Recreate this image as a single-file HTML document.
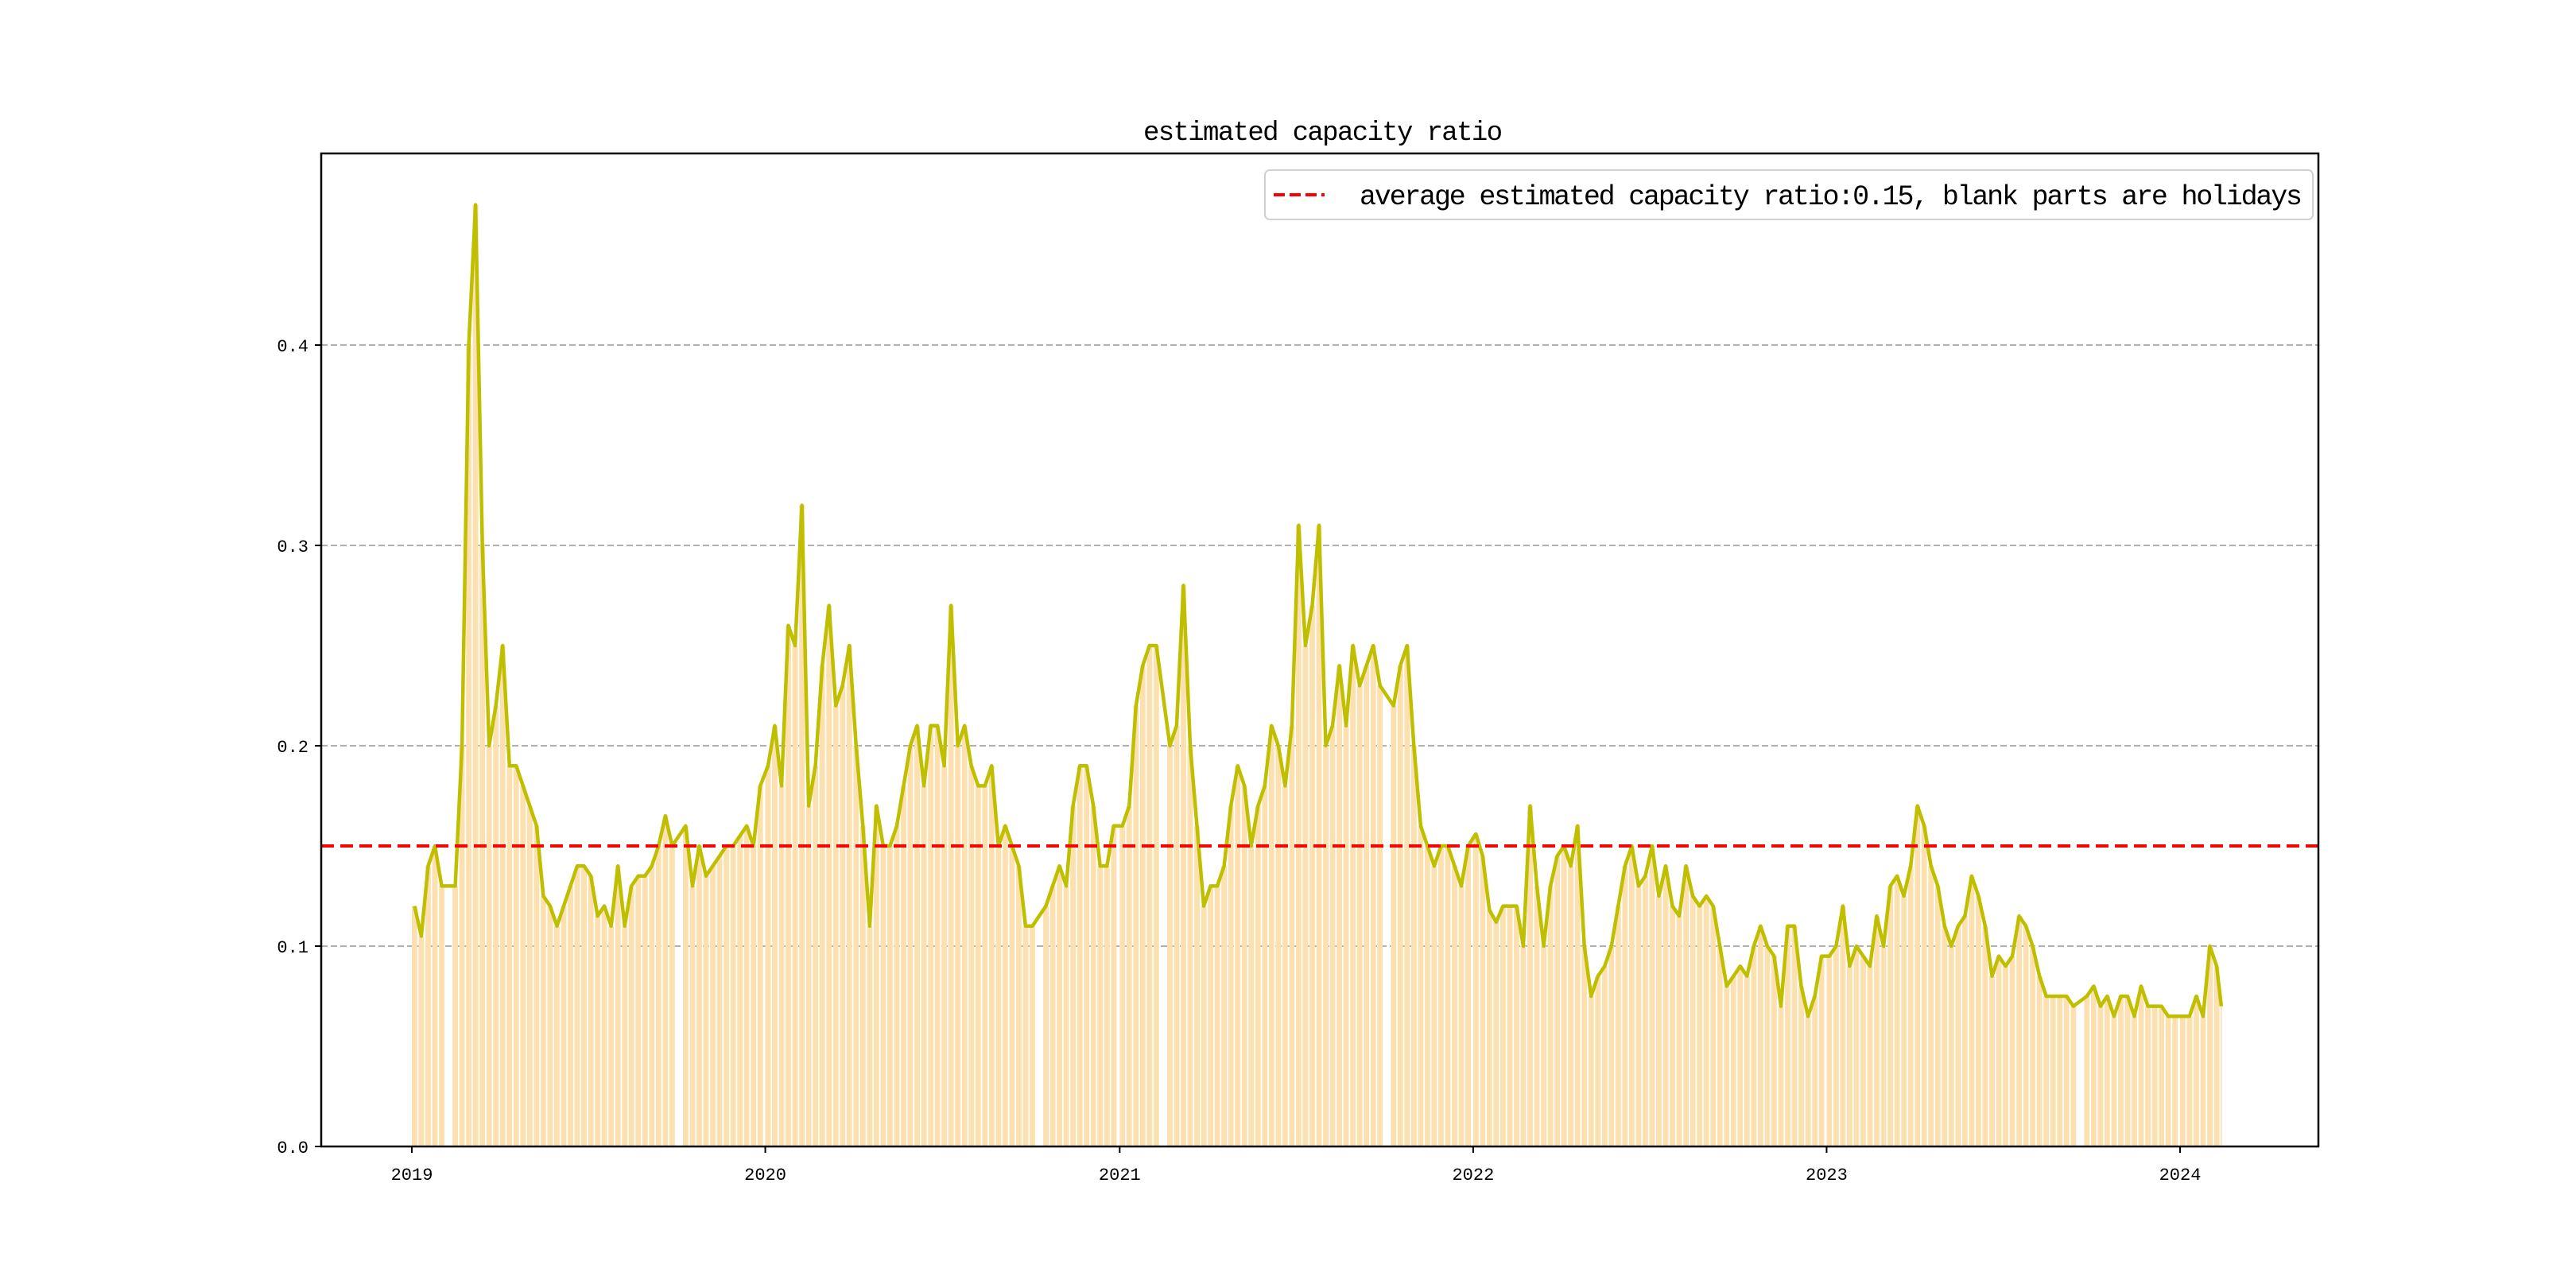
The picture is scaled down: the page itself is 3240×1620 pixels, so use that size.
<!DOCTYPE html>
<html><head><meta charset="utf-8"><title>estimated capacity ratio</title>
<style>html,body{margin:0;padding:0;background:#fff;}svg{display:block;}</style></head>
<body>
<svg id="chart" xmlns="http://www.w3.org/2000/svg" width="3240" height="1620" viewBox="0 0 3240 1620">
<rect x="0" y="0" width="3240" height="1620" fill="#fff"/>
<g id="grid"></g>
<g id="bars"></g>
<g id="lines"></g>
<rect x="404" y="193" width="2512" height="1249" fill="none" stroke="#000" stroke-width="2.5"/>
<g id="axes"></g>
<text x="1664" y="176" text-anchor="middle" font-family="'WenQuanYi Zen Hei','Liberation Mono',monospace" font-size="34" textLength="452" fill="#000">estimated capacity ratio</text>
<g>
<rect x="1591" y="214" width="1318" height="62" rx="6" fill="#fff" stroke="#d0d0d0" stroke-width="2"/>
<line x1="1602" y1="245" x2="1666" y2="245" stroke="#ff0000" stroke-width="4" stroke-dasharray="14,6"/>
<text x="1710" y="257" font-family="'WenQuanYi Zen Hei','Liberation Mono',monospace" font-size="35" textLength="1186" fill="#000">average estimated capacity ratio:0.15, blank parts are holidays</text>
</g>
</svg>
<script>
const years = [2019, 2020, 2021, 2022, 2023, 2024];
const v2019 = [0.12,0.105,0.14,0.15,0.13,null,0.13,0.20,0.40,0.47,0.30,0.20,0.22,0.25,0.19,0.19,0.18,0.17,0.16,0.125,0.12,0.11,0.12,0.13,0.14,0.14,0.135,0.115,0.12,0.11,0.14,0.11,0.13,0.135,0.135,0.14,0.15,0.165,0.15,null,0.16,0.13,0.15,0.135,0.14,0.145,0.15,0.15,0.155,0.16,0.15,0.18];
const v2020 = [0.19,0.21,0.18,0.26,0.25,0.32,0.17,0.19,0.24,0.27,0.22,0.23,0.25,0.20,0.16,0.11,0.17,0.15,0.15,0.16,0.18,0.20,0.21,0.18,0.21,0.21,0.19,0.27,0.20,0.21,0.19,0.18,0.18,0.19,0.15,0.16,0.15,0.14,0.11,0.11,null,0.12,0.13,0.14,0.13,0.17,0.19,0.19,0.17,0.14,0.14,0.16];
const v2021 = [0.16,0.17,0.22,0.24,0.25,0.25,null,0.20,0.21,0.28,0.20,0.16,0.12,0.13,0.13,0.14,0.17,0.19,0.18,0.15,0.17,0.18,0.21,0.20,0.18,0.21,0.31,0.25,0.27,0.31,0.20,0.21,0.24,0.21,0.25,0.23,0.24,0.25,0.23,null,0.22,0.24,0.25,0.20,0.16,0.15,0.14,0.15,0.15,0.14,0.13,0.15];
const v2022 = [0.156,0.145,0.118,0.112,0.12,0.12,0.12,0.10,0.17,0.13,0.10,0.13,0.145,0.15,0.14,0.16,0.10,0.075,0.085,0.09,0.10,0.12,0.14,0.15,0.13,0.135,0.15,0.125,0.14,0.12,0.115,0.14,0.125,0.12,0.125,0.12,0.10,0.08,0.085,0.09,0.085,0.10,0.11,0.10,0.095,0.07,0.11,0.11,0.08,0.065,0.075,0.095];
const v2023 = [0.095,0.10,0.12,0.09,0.10,0.095,0.09,0.115,0.10,0.13,0.135,0.125,0.14,0.17,0.16,0.14,0.13,0.11,0.10,0.11,0.115,0.135,0.125,0.11,0.085,0.095,0.09,0.095,0.115,0.11,0.10,0.085,0.075,0.075,0.075,0.075,0.07,null,0.075,0.08,0.07,0.075,0.065,0.075,0.075,0.065,0.08,0.07,0.07,0.07,0.065,0.065];
const v2024 = [0.065,0.065,0.075,0.065,0.10,0.09,0.07];
const yTicks = [0.0, 0.1, 0.2, 0.3, 0.4];
const yTickLabels = ["0.0", "0.1", "0.2", "0.3", "0.4"];
const xTickLabels = ["2019", "2020", "2021", "2022", "2023", "2024"];
const avgRatio = [0.15];

const NS = "http://www.w3.org/2000/svg";
const DAY = 86400000;
const T0 = Date.UTC(2019,0,1), T1 = Date.UTC(2024,0,1);
const X0 = 518, X1 = 2742, Y0 = 1442, PER = 2520;
function xDate(t){ return X0 + (t - T0) / (T1 - T0) * (X1 - X0); }
function yVal(v){ return Y0 - v * PER; }
function mk(tag, attrs, parent){ const e = document.createElementNS(NS, tag); for (const k in attrs) e.setAttribute(k, attrs[k]); parent.appendChild(e); return e; }

const grid = document.getElementById('grid');
const axes = document.getElementById('axes');
const bars = document.getElementById('bars');
const lines = document.getElementById('lines');

yTicks.forEach((v, i) => {
  if (v > 0) {
    const g = mk('line', {x1:404, x2:2916, y1:yVal(v), y2:yVal(v), stroke:'#b0b0b0', 'stroke-width':2, 'stroke-dasharray':'8,4'}, grid);
    
    
  }
  const tk = mk('line', {x1:396, x2:404, y1:yVal(v), y2:yVal(v), stroke:'#000', 'stroke-width':2}, axes);
  
  
  const t = mk('text', {x:388, y:yVal(v)+8, 'text-anchor':'end', 'font-family':"'WenQuanYi Zen Hei','Liberation Mono',monospace", 'font-size':22}, axes);
  t.textContent = yTickLabels[i];
  
  
});
xTickLabels.forEach((lab, i) => {
  const x = xDate(Date.UTC(years[i],0,1));
  const tk = mk('line', {x1:x, x2:x, y1:1442, y2:1450, stroke:'#000', 'stroke-width':2}, axes);
  
  
  const t = mk('text', {x:x, y:1484, 'text-anchor':'middle', 'font-family':"'WenQuanYi Zen Hei','Liberation Mono',monospace", 'font-size':22}, axes);
  t.textContent = lab;
  
  
});

const series = [v2019, v2020, v2021, v2022, v2023, v2024];
let pts = [];
series.forEach((vals, yi) => {
  const ys = Date.UTC(years[yi],0,1);
  vals.forEach((v, k) => {
    if (v === null) return;
    const start = ys + 7*k*DAY;
    const isLast = (yi === series.length-1 && k === vals.length-1);
    const xa = xDate(start), xb = xDate(start + (isLast ? 1.2 : 5.6)*DAY);
    const b = mk('rect', {x:xa, y:yVal(v), width:Math.max(1.5, xb-xa), height:Y0-yVal(v), fill:'#fde0b0'}, bars);
    
    
    pts.push([xDate(start + (isLast ? 0.6 : 2.8)*DAY), yVal(v)]);
  });
});
const pl = mk('polyline', {points: pts.map(p => p[0].toFixed(1)+','+p[1].toFixed(1)).join(' '), fill:'none', stroke:'#bfbf00', 'stroke-width':4.5, 'stroke-linejoin':'round'}, lines);


const avg = mk('line', {x1:404, x2:2916, y1:yVal(avgRatio[0]), y2:yVal(avgRatio[0]), stroke:'#ff0000', 'stroke-width':4, 'stroke-dasharray':'16,8'}, lines);


</script>
</body></html>
